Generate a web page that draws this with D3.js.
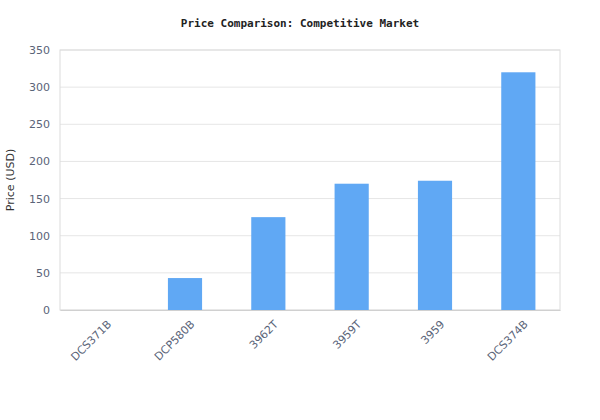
<!DOCTYPE html>
<html>
<head>
<meta charset="utf-8">
<script src="https://cdn.jsdelivr.net/npm/d3@7"></script>
<style>
  body { margin: 0; background: #fff; }
  .tick text { font-family: "DejaVu Sans", sans-serif; font-size: 11px; fill: #5a6478; }
</style>
</head>
<body>
<div id="chart"></div>
<script>
const categories = ["DCS371B", "DCP580B", "3962T", "3959T", "3959", "DCS374B"];
const prices = [0, 43, 125, 170, 174, 320];
const yTicks = [0, 50, 100, 150, 200, 250, 300, 350];

const width = 600, height = 420;
const margin = { top: 50, left: 60, bottom: 110, right: 40 };
const iwidth = width - margin.left - margin.right;
const iheight = height - margin.top - margin.bottom;

const svg = d3.select("#chart").append("svg")
  .attr("width", width).attr("height", height);

svg.append("text")
  .attr("x", width / 2).attr("y", 27)
  .attr("text-anchor", "middle")
  .style("font-family", "DejaVu Sans Mono, monospace")
  .style("font-size", "11px").style("font-weight", "bold")
  .style("fill", "#222")
  .text("Price Comparison: Competitive Market");

const g = svg.append("g").attr("transform", `translate(${margin.left},${margin.top})`);

const x = d3.scaleBand().domain(categories).range([0, iwidth])
  .paddingInner(0.59).paddingOuter(0.295);
const y = d3.scaleLinear().domain([0, 350]).range([iheight, 0]);

// grid
g.selectAll("line.grid").data(yTicks).enter().append("line")
  .attr("class", "grid")
  .attr("x1", 0).attr("x2", iwidth)
  .attr("y1", d => y(d)).attr("y2", d => y(d))
  .style("stroke", "#e6e6e6");

g.append("rect").attr("width", iwidth).attr("height", iheight)
  .style("fill", "none").style("stroke", "#dcdcdc");

g.selectAll("rect.bar").data(categories).enter().append("rect")
  .attr("class", "bar")
  .attr("x", d => x(d))
  .attr("y", (d, i) => y(prices[i]))
  .attr("width", x.bandwidth())
  .attr("height", (d, i) => iheight - y(prices[i]))
  .style("fill", "#60a8f4");

const yAxis = g.append("g").call(d3.axisLeft(y).tickValues(yTicks).tickSize(0).tickPadding(10));
yAxis.select(".domain").remove();

const xAxis = g.append("g").attr("transform", `translate(0,${iheight})`)
  .call(d3.axisBottom(x).tickSize(0).tickPadding(8));
xAxis.select(".domain").style("stroke", "#d0d0d0");
xAxis.selectAll("text")
  .attr("text-anchor", "end")
  .attr("dx", "-0.3em").attr("dy", "0.9em")
  .attr("transform", "rotate(-45)");

svg.append("text")
  .attr("transform", `translate(14,${margin.top + iheight / 2}) rotate(-90)`)
  .attr("text-anchor", "middle")
  .style("font-family", "DejaVu Sans, sans-serif")
  .style("font-size", "11px").style("fill", "#333")
  .text("Price (USD)");
</script>
</body>
</html>
